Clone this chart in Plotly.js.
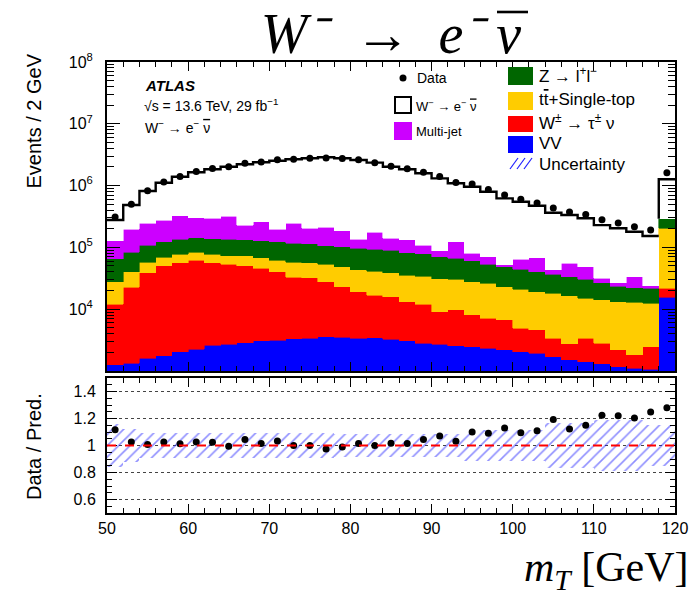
<!DOCTYPE html>
<html>
<head>
<meta charset="utf-8">
<script src="https://cdn.plot.ly/plotly-3.0.1.min.js"></script>
<style>
  html, body { margin: 0; padding: 0; background: #ffffff; }
  #chart { width: 690px; height: 595px; }
</style>
</head>
<body>
<div id="chart"></div>
<script>
// m_T bin centres (2 GeV bins from 50 to 120; the last bin holds the overflow)
const binCenters = [51,53,55,57,59,61,63,65,67,69,71,73,75,77,79,81,83,85,87,89,91,93,95,97,99,101,103,105,107,109,111,113,115,117,119];
const binEdgesLow = [50,52,54,56,58,60,62,64,66,68,70,72,74,76,78,80,82,84,86,88,90,92,94,96,98,100,102,104,106,108,110,112,114,116,118];

// Expected events per bin, by process
const vv = [1250,1330,1620,1770,2060,2240,2610,2700,2870,3060,3170,3330,3380,3590,3510,3380,3460,3260,3060,2810,2700,2540,2470,2330,2190,2050,1930,1700,1510,1410,1300,1170,1110,1060,15600];
const wTauNu = [10750,21270,37380,48230,54440,60260,53890,50500,47130,42840,36830,29470,29000,24300,19600,15800,13500,12600,10100,9300,6400,7200,5600,4780,4500,2850,2680,1680,1230,1970,1510,1020,710,1420,6400];
const ttbarTop = [15900,17400,19000,19200,20800,20900,20800,20300,22600,22200,22500,24600,24100,25300,25700,24400,24000,23100,22500,22300,22100,20800,19850,19100,16400,16300,14600,14700,13700,11600,11300,11000,11100,10000,182000];
const zll = [37000,43400,50000,54800,57700,60600,60700,61500,59400,59900,61500,58600,58500,53800,54200,53000,52100,50800,46300,43800,39600,36000,32400,27600,25700,23000,21300,18600,17200,15500,12800,10500,9400,9300,87000];
const multiJet = [63000,115000,137000,153000,191000,155000,158000,187000,98000,130000,72000,129000,89000,104000,83000,38400,82000,50200,50000,30800,17700,57500,20000,17000,3100,19900,27600,6400,21700,18300,4700,3200,11300,2200,0];
const wEnu = [149000,287000,574000,833000,1064000,1341000,1544000,1698000,1980000,2122000,2334000,2425000,2566000,2659000,2584000,2455000,2175000,1880000,1708000,1471000,1221500,966000,879700,725000,570000,484000,405000,321000,279000,247000,198000,177000,145000,129000,974000];

// Observed events
const data = [309000,498000,825000,1138000,1407000,1684000,1886000,2010000,2307000,2416000,2616000,2670000,2770000,2798000,2737000,2629000,2350000,2054000,1868000,1650000,1403000,1125000,1057000,868000,703000,600000,525000,434000,375000,340000,281000,249000,215000,191000,1620000];

// Relative uncertainty on the total prediction
const relUnc = [0.16,0.12,0.09,0.09,0.09,0.09,0.09,0.09,0.09,0.09,0.09,0.09,0.09,0.09,0.085,0.085,0.085,0.085,0.085,0.085,0.085,0.085,0.115,0.115,0.115,0.115,0.115,0.17,0.17,0.17,0.19,0.19,0.19,0.15,0.15];

const COL = { vv: '#0000ff', wtau: '#ff0000', tt: '#ffcc00', z: '#006600', mj: '#cc00ff', hatch: '#1f1fff' };
const FONT = 'Liberation Sans, Arial, Helvetica, sans-serif';
const SERIF = 'Liberation Serif, Times New Roman, serif';

const nb = binCenters.length;
const bkgTop = binCenters.map((_, i) => vv[i] + wTauNu[i] + ttbarTop[i] + zll[i] + multiJet[i]);
const total = binCenters.map((_, i) => bkgTop[i] + wEnu[i]);
const ratio = data.map((d, i) => d / total[i]);

function stackBar(name, y, color) {
  return {
    type: 'bar', name: name, x: binCenters, y: y, width: 2,
    xaxis: 'x2', yaxis: 'y',
    marker: { color: color, line: { color: color, width: 0.6 } },
    hoverinfo: 'skip', showlegend: false
  };
}

const traces = [
  stackBar('VV', vv, COL.vv),
  stackBar('W→τν', wTauNu, COL.wtau),
  stackBar('tt+Single-top', ttbarTop, COL.tt),
  stackBar('Z→ll', zll, COL.z),
  stackBar('Multi-jet', multiJet, COL.mj),
  stackBar('W→eν', wEnu, '#ffffff'),
  // outline of the signal on top of the stack (regular bins)
  {
    type: 'scatter', mode: 'lines', xaxis: 'x2', yaxis: 'y',
    x: binEdgesLow.slice(0, nb - 1).concat([binEdgesLow[nb - 1]]),
    y: total.slice(0, nb - 1).concat([total[nb - 2]]),
    line: { color: '#000000', width: 2.4, shape: 'hv' },
    hoverinfo: 'skip', showlegend: false
  },
  // outline of the overflow bin
  {
    type: 'scatter', mode: 'lines', xaxis: 'x2', yaxis: 'y',
    x: [binEdgesLow[nb - 1], binEdgesLow[nb - 1], 120],
    y: [bkgTop[nb - 1], total[nb - 1], total[nb - 1]],
    line: { color: '#000000', width: 2.4 },
    hoverinfo: 'skip', showlegend: false
  },
  {
    type: 'scatter', mode: 'markers', xaxis: 'x2', yaxis: 'y',
    x: binCenters, y: data,
    marker: { color: '#000000', size: 7 },
    hoverinfo: 'skip', showlegend: false
  },
  // uncertainty band in the ratio panel
  {
    type: 'bar', x: binCenters, y: relUnc.map(u => 2 * u), base: relUnc.map(u => 1 - u), width: 2,
    xaxis: 'x', yaxis: 'y2',
    marker: {
      color: 'rgba(255,255,255,0)', line: { width: 0 },
      pattern: { shape: '/', fgcolor: COL.hatch, bgcolor: 'rgba(255,255,255,0)', size: 8, solidity: 0.2, fillmode: 'overlay' }
    },
    hoverinfo: 'skip', showlegend: false
  },
  {
    type: 'scatter', mode: 'markers', xaxis: 'x', yaxis: 'y2',
    x: binCenters, y: ratio,
    marker: { color: '#000000', size: 7 },
    hoverinfo: 'skip', showlegend: false
  }
];

// pixel helpers for the decorations (plot area: x 107..675, y 62..513)
const px = x => (x - 107) / 568;
const py = y => (513 - y) / 451;

const logMinor = [];
for (let d = 3; d < 8; d++) for (let k = 2; k <= 9; k++) logMinor.push(k * Math.pow(10, d));

const nuBar = '<span style="text-decoration:overline">ν</span>';

const annotations = [
  { text: '<b><i>ATLAS</i></b>', x: px(143), y: py(85), font: { family: FONT, size: 15, color: '#000' } },
  { text: '√s = 13.6 TeV, 29 fb<sup>−1</sup>', x: px(142), y: py(105), font: { family: FONT, size: 14, color: '#000' } },
  { text: 'W<sup>−</sup> → e<sup>−</sup> ' + nuBar, x: px(143), y: py(127), font: { family: FONT, size: 14, color: '#000' } },
  { text: 'Data', x: px(415), y: py(78), font: { family: FONT, size: 14, color: '#000' } },
  { text: 'W<sup>−</sup> → e<sup>−</sup> ' + nuBar, x: px(414), y: py(106), font: { family: FONT, size: 13, color: '#000' } },
  { text: 'Multi-jet', x: px(414), y: py(131), font: { family: FONT, size: 13, color: '#000' } },
  { text: 'Z → l<sup>+</sup>l<sup>−</sup>', x: px(537), y: py(75), font: { family: FONT, size: 17, color: '#000' } },
  { text: 't<span style="text-decoration:overline">t</span>+Single-top', x: px(537), y: py(99), font: { family: FONT, size: 17, color: '#000' } },
  { text: 'W<sup>±</sup> → τ<sup>±</sup> ν', x: px(537), y: py(122), font: { family: FONT, size: 17, color: '#000' } },
  { text: 'VV', x: px(537), y: py(144), font: { family: FONT, size: 17, color: '#000' } },
  { text: 'Uncertainty', x: px(537), y: py(164), font: { family: FONT, size: 17, color: '#000' } },
  { text: 'Events / 2 GeV', x: px(34), y: py(52), xanchor: 'center', yanchor: 'top', textangle: -90, font: { family: FONT, size: 20, color: '#000' } },
  { text: 'Data / Pred.', x: px(34), y: py(447), xanchor: 'center', yanchor: 'middle', textangle: -90, font: { family: FONT, size: 20, color: '#000' } },
  { text: '<i>m</i><sub><i>T</i></sub> [GeV]', x: px(690), y: py(570), xanchor: 'right', yanchor: 'middle', font: { family: SERIF, size: 42, color: '#000' } }
].map(a => Object.assign({ xref: 'paper', yref: 'paper', showarrow: false, xanchor: 'left', yanchor: 'middle' }, a));

const shapes = [
  { type: 'line', xref: 'paper', yref: 'y2', x0: 0, x1: 1, y0: 1, y1: 1, line: { color: '#ff0000', width: 2, dash: 'dash' } },
  // bar over the antineutrino in the heading
  { type: 'line', xref: 'paper', yref: 'paper', x0: px(497), x1: px(528), y0: py(12), y1: py(12), line: { color: '#000', width: 2.6 } },
  { type: 'circle', xref: 'paper', yref: 'paper', x0: px(399.5), x1: px(406.5), y0: py(81.5), y1: py(74.5), fillcolor: '#000', line: { width: 0 } },
  { type: 'rect', xref: 'paper', yref: 'paper', x0: px(395), x1: px(411), y0: py(113), y1: py(97), fillcolor: '#fff', line: { color: '#000', width: 2 } },
  { type: 'rect', xref: 'paper', yref: 'paper', x0: px(394), x1: px(412), y0: py(140), y1: py(122), fillcolor: COL.mj, line: { width: 0 } },
  { type: 'rect', xref: 'paper', yref: 'paper', x0: px(508), x1: px(533), y0: py(85), y1: py(67), fillcolor: COL.z, line: { width: 0 } },
  { type: 'rect', xref: 'paper', yref: 'paper', x0: px(508), x1: px(533), y0: py(110), y1: py(92), fillcolor: COL.tt, line: { width: 0 } },
  { type: 'rect', xref: 'paper', yref: 'paper', x0: px(508), x1: px(533), y0: py(132), y1: py(116), fillcolor: COL.wtau, line: { width: 0 } },
  { type: 'rect', xref: 'paper', yref: 'paper', x0: px(508), x1: px(533), y0: py(153), y1: py(136), fillcolor: COL.vv, line: { width: 0 } }
];
// hatched legend symbol
[510, 517, 524].forEach(x0 => {
  shapes.push({ type: 'line', xref: 'paper', yref: 'paper', x0: px(x0), x1: px(x0 + 8), y0: py(169), y1: py(158), line: { color: COL.hatch, width: 1.2 } });
});

const axisCommon = {
  showline: true, linecolor: '#000000', linewidth: 2, mirror: 'allticks',
  ticks: 'inside', tickcolor: '#000000', tickwidth: 1, showgrid: false, zeroline: false,
  tickfont: { family: FONT, size: 16, color: '#000000' }
};

const layout = {
  width: 690, height: 595,
  margin: { l: 107, r: 15, t: 62, b: 82, pad: 0 },
  paper_bgcolor: '#ffffff', plot_bgcolor: '#ffffff',
  barmode: 'stack', bargap: 0,
  showlegend: false,
  title: {
    text: '<i>W⁻</i>  →  <i>e⁻ ν</i>',
    font: { family: SERIF, size: 56, color: '#000000' },
    x: 0.5, xref: 'paper', y: 1 - 33 / 595, yref: 'container', xanchor: 'center', yanchor: 'middle'
  },
  xaxis: Object.assign({}, axisCommon, {
    domain: [0, 1], anchor: 'y2', range: [50, 120],
    tickmode: 'array', tickvals: [50, 60, 70, 80, 90, 100, 110, 120], ticklen: 9,
    minor: { ticks: 'inside', dtick: 2, tick0: 50, ticklen: 5, tickcolor: '#000000', showgrid: false }
  }),
  xaxis2: Object.assign({}, axisCommon, {
    domain: [0, 1], anchor: 'y', matches: 'x', range: [50, 120], showticklabels: false,
    tickmode: 'array', tickvals: [50, 60, 70, 80, 90, 100, 110, 120], ticklen: 9,
    minor: { ticks: 'inside', dtick: 2, tick0: 50, ticklen: 5, tickcolor: '#000000', showgrid: false }
  }),
  yaxis: Object.assign({}, axisCommon, {
    domain: [0.3149, 1], anchor: 'x2', type: 'log', range: [3, 8],
    tickmode: 'array', tickvals: [1e4, 1e5, 1e6, 1e7, 1e8],
    ticktext: ['10<sup>4</sup>', '10<sup>5</sup>', '10<sup>6</sup>', '10<sup>7</sup>', '10<sup>8</sup>'],
    ticklen: 13, ticklabelstandoff: 9,
    minor: { ticks: 'inside', tickmode: 'array', tickvals: logMinor, ticklen: 7, tickcolor: '#000000', showgrid: false }
  }),
  yaxis2: Object.assign({}, axisCommon, {
    domain: [0, 0.2993], anchor: 'x', range: [0.5, 1.5],
    tickmode: 'array', tickvals: [0.6, 0.8, 1, 1.2, 1.4], ticktext: ['0.6', '0.8', '1', '1.2', '1.4'],
    ticklen: 10, ticklabelstandoff: 6,
    showgrid: true, gridcolor: '#444444', gridwidth: 1, griddash: 'dot',
    minor: { ticks: 'inside', dtick: 0.05, tick0: 0.5, ticklen: 5, tickcolor: '#000000', showgrid: false }
  }),
  annotations: annotations,
  shapes: shapes
};

Plotly.newPlot('chart', traces, layout, { displayModeBar: false, staticPlot: true });
</script>
</body>
</html>
